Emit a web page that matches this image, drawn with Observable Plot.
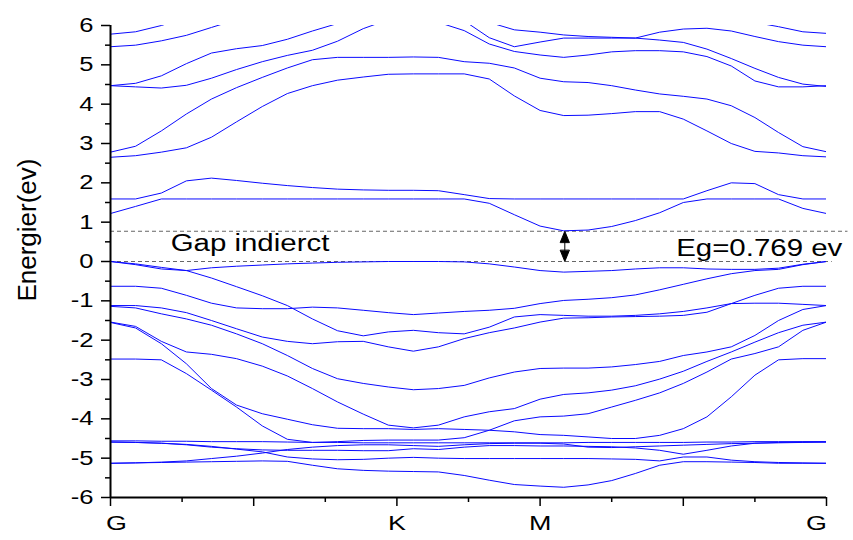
<!DOCTYPE html>
<html>
<head>
<meta charset="utf-8">
<script src="https://cdn.jsdelivr.net/npm/d3@7"></script>
<script src="https://cdn.jsdelivr.net/npm/@observablehq/plot@0.6"></script>
<style>
  html, body { margin: 0; padding: 0; background: #fff; }
  #chart { width: 853px; height: 540px; }
</style>
</head>
<body>
<div id="chart"></div>
<script>
// ---- k-path (G -> K -> M -> G) ----
const kPoints = [0, 0.35, 0.71, 1.06, 1.41, 1.76, 2.12, 2.47, 2.82, 3.17, 3.53, 3.88, 4.23, 4.58, 4.94,
                 5.29, 5.64, 6.00, 6.33, 6.67, 7.00, 7.33, 7.67, 8.00, 8.33, 8.67, 9.00, 9.33, 9.67, 10.00];
const symPoints = [0, 4, 6, 10];
const symLabels = ["G", "K", "M", "G"];
const xMajor = [0, 2, 4, 6, 8, 10];
const xMinor = [1, 3, 5, 7, 9];
const yMajor = [-6, -5, -4, -3, -2, -1, 0, 1, 2, 3, 4, 5, 6];
const yMinor = [-5.5, -4.5, -3.5, -2.5, -1.5, -0.5, 0.5, 1.5, 2.5, 3.5, 4.5, 5.5];

// ---- conduction bands (eV) ----
const c1 = [1.22, 1.40, 1.59, 1.59, 1.59, 1.59, 1.59, 1.59, 1.59, 1.59, 1.59, 1.59, 1.59, 1.59, 1.59, 1.48, 1.19, 0.90, 0.78, 0.80, 0.89, 1.04, 1.24, 1.50, 1.59, 1.59, 1.59, 1.59, 1.35, 1.22];
const c2 = [1.59, 1.59, 1.74, 2.05, 2.12, 2.06, 1.99, 1.93, 1.88, 1.84, 1.82, 1.81, 1.81, 1.80, 1.70, 1.60, 1.59, 1.59, 1.59, 1.59, 1.59, 1.59, 1.59, 1.59, 1.80, 2.00, 1.98, 1.70, 1.59, 1.59];
const c3 = [2.65, 2.69, 2.78, 2.89, 3.16, 3.55, 3.94, 4.27, 4.47, 4.61, 4.69, 4.76, 4.77, 4.77, 4.77, 4.64, 4.21, 3.84, 3.71, 3.72, 3.76, 3.81, 3.81, 3.62, 3.32, 3.00, 2.80, 2.76, 2.69, 2.66];
const c4 = [2.78, 2.93, 3.32, 3.75, 4.13, 4.42, 4.68, 4.92, 5.13, 5.19, 5.19, 5.19, 5.20, 5.19, 5.08, 5.04, 4.92, 4.66, 4.57, 4.55, 4.47, 4.36, 4.26, 4.20, 4.13, 3.96, 3.66, 3.28, 2.92, 2.79];
const c5 = [4.47, 4.44, 4.41, 4.48, 4.66, 4.88, 5.08, 5.24, 5.37, 5.60, 5.92, 6.15, 6.25, 6.08, 5.87, 5.53, 5.34, 5.25, 5.19, 5.25, 5.33, 5.36, 5.36, 5.33, 5.21, 4.97, 4.59, 4.44, 4.44, 4.47];
const c6 = [4.47, 4.53, 4.72, 5.03, 5.30, 5.41, 5.49, 5.65, 5.86, 6.05, 6.30, 6.40, 6.40, 6.30, 6.12, 5.69, 5.46, 5.58, 5.68, 5.68, 5.68, 5.68, 5.83, 5.91, 5.93, 5.86, 5.72, 5.59, 5.50, 5.46];
const c7 = [5.46, 5.50, 5.61, 5.75, 5.95, 6.15, 6.30, 6.40, 6.50, 6.55, 6.60, 6.60, 6.55, 6.45, 6.30, 6.08, 5.89, 5.83, 5.76, 5.72, 5.70, 5.68, 5.63, 5.57, 5.40, 5.16, 4.91, 4.68, 4.51, 4.45];
const c8 = [5.78, 5.84, 6.00, 6.20, 6.35, 6.50, 6.60, 6.70, 6.80, 6.80, 6.80, 6.80, 6.80, 6.80, 6.80, 6.80, 6.80, 6.80, 6.80, 6.70, 6.60, 6.50, 6.40, 6.30, 6.25, 6.15, 6.08, 5.97, 5.84, 5.80];

// ---- valence bands (eV) ----
const v1 = [0, -0.06, -0.15, -0.23, -0.16, -0.12, -0.09, -0.06, -0.04, -0.02, -0.01, 0, 0, 0, -0.01, -0.06, -0.14, -0.23, -0.27, -0.25, -0.23, -0.19, -0.16, -0.16, -0.19, -0.20, -0.20, -0.17, -0.07, 0];
const v2 = [0, -0.08, -0.19, -0.23, -0.42, -0.64, -0.87, -1.12, -1.46, -1.76, -1.89, -1.79, -1.75, -1.81, -1.84, -1.67, -1.41, -1.35, -1.37, -1.39, -1.39, -1.37, -1.33, -1.27, -1.18, -1.07, -1.06, -1.06, -1.09, -1.12];
const v3 = [-0.63, -0.63, -0.68, -0.86, -1.06, -1.18, -1.20, -1.20, -1.16, -1.18, -1.24, -1.30, -1.35, -1.31, -1.27, -1.24, -1.19, -1.07, -0.99, -0.96, -0.92, -0.85, -0.72, -0.58, -0.44, -0.31, -0.23, -0.20, -0.08, 0];
const v4 = [-1.12, -1.12, -1.18, -1.30, -1.50, -1.71, -1.92, -2.03, -2.09, -2.04, -2.03, -2.17, -2.28, -2.17, -1.96, -1.81, -1.69, -1.54, -1.44, -1.43, -1.41, -1.40, -1.39, -1.37, -1.29, -1.07, -0.86, -0.68, -0.63, -0.63];
const v5 = [-1.14, -1.18, -1.33, -1.46, -1.62, -1.84, -2.09, -2.39, -2.72, -2.98, -3.10, -3.19, -3.26, -3.23, -3.15, -2.96, -2.81, -2.72, -2.71, -2.71, -2.68, -2.62, -2.54, -2.39, -2.30, -2.17, -1.88, -1.50, -1.22, -1.12];
const v6 = [-1.54, -1.65, -2.03, -2.30, -2.36, -2.47, -2.66, -2.91, -3.23, -3.57, -3.88, -4.16, -4.23, -4.16, -3.95, -3.82, -3.74, -3.50, -3.38, -3.34, -3.27, -3.16, -2.99, -2.79, -2.54, -2.30, -2.05, -1.81, -1.62, -1.54];
const v7 = [-1.55, -1.69, -2.09, -2.60, -3.23, -3.65, -3.87, -4.01, -4.15, -4.24, -4.25, -4.25, -4.27, -4.25, -4.27, -4.29, -4.33, -4.40, -4.42, -4.46, -4.50, -4.50, -4.42, -4.25, -3.95, -3.44, -2.89, -2.50, -2.47, -2.47];
const v8 = [-2.48, -2.48, -2.50, -2.85, -3.27, -3.70, -4.18, -4.52, -4.60, -4.58, -4.55, -4.54, -4.54, -4.54, -4.48, -4.29, -4.05, -3.95, -3.93, -3.87, -3.70, -3.53, -3.34, -3.10, -2.81, -2.48, -2.34, -2.17, -1.75, -1.54];
const v9 = [-4.56, -4.56, -4.57, -4.57, -4.58, -4.58, -4.58, -4.59, -4.60, -4.60, -4.61, -4.61, -4.61, -4.61, -4.61, -4.61, -4.61, -4.61, -4.61, -4.60, -4.60, -4.60, -4.60, -4.60, -4.59, -4.59, -4.58, -4.58, -4.58, -4.58];
const v10 = [-4.59, -4.60, -4.62, -4.66, -4.72, -4.76, -4.79, -4.80, -4.80, -4.80, -4.81, -4.81, -4.76, -4.78, -4.72, -4.68, -4.68, -4.69, -4.69, -4.70, -4.71, -4.74, -4.80, -4.90, -4.80, -4.69, -4.62, -4.60, -4.59, -4.59];
const v11 = [-5.13, -5.12, -5.10, -5.07, -5.01, -4.95, -4.87, -4.78, -4.72, -4.68, -4.66, -4.66, -4.68, -4.70, -4.66, -4.63, -4.62, -4.62, -4.64, -4.72, -4.73, -4.71, -4.69, -4.67, -4.65, -4.63, -4.62, -4.61, -4.60, -4.59];
const v12 = [-4.59, -4.60, -4.62, -4.65, -4.70, -4.77, -4.84, -4.97, -5.02, -5.04, -5.03, -5.00, -4.98, -5.00, -5.01, -5.01, -5.01, -5.01, -5.01, -5.01, -5.02, -5.03, -5.07, -4.97, -4.97, -5.05, -5.09, -5.11, -5.12, -5.13];
const v13 = [-5.13, -5.12, -5.11, -5.10, -5.09, -5.08, -5.07, -5.08, -5.18, -5.27, -5.31, -5.33, -5.34, -5.35, -5.44, -5.56, -5.67, -5.71, -5.74, -5.68, -5.57, -5.39, -5.18, -5.09, -5.09, -5.10, -5.11, -5.13, -5.13, -5.13];

// ---- gap annotation ----
const gapValue = 0.769;   // eV
const gapK = 6.345;       // k position of CBM arrow
const gapLabel = "Gap indierct";
const egLabel = `Eg=${gapValue} ev`;
const yTitle = "Energier(ev)";

const bandList = {c1, c2, c3, c4, c5, c6, c7, c8, v1, v2, v3, v4, v5, v6, v7, v8, v9, v10, v11, v12, v13};
const rows = [];
for (const [name, vals] of Object.entries(bandList)) {
  vals.forEach((e, i) => rows.push({band: name, k: kPoints[i], e}));
}

const W = 853, H = 540, mL = 110, mR = 27, mT = 25, mB = 43;
const yScale = Plot.scale({y: {domain: [-6, 6], range: [H - mB, mT]}});
const gapPx = Math.abs(yScale.apply(0) - yScale.apply(gapValue));

const doubleArrow = {
  draw(context, l) {
    const h = 11, w = 4.5;
    context.moveTo(-w, -l + h); context.lineTo(0, -l); context.lineTo(w, -l + h); context.closePath();
    context.moveTo(-w, -h); context.lineTo(0, 0); context.lineTo(w, -h); context.closePath();
    context.moveTo(0, -h); context.lineTo(0, -l + h);
  }
};

const font = "'Liberation Sans', Arial, Helvetica, sans-serif";

const chart = Plot.plot({
  width: W, height: H,
  marginLeft: mL, marginRight: mR, marginTop: mT, marginBottom: mB,
  x: {domain: [0, 10]},
  y: {domain: [-6, 6]},
  style: {fontFamily: font, background: "#fff", color: "#000"},
  marks: [
    // dashed reference lines
    Plot.ruleY([gapValue], {x1: 0, x2: 10.3, stroke: "#666", strokeDasharray: "4,3", strokeWidth: 1, clip: false}),
    Plot.ruleY([0], {x1: 0, x2: 10.08, stroke: "#666", strokeDasharray: "4,3", strokeWidth: 1, clip: false}),
    // bands
    Plot.line(rows, {x: "k", y: "e", z: "band", stroke: "#0a0aff", strokeWidth: 1, clip: true}),
    // axes
    Plot.axisY({ticks: yMinor, tickSize: 5, tickFormat: () => "", label: null, strokeWidth: 1.5}),
    Plot.axisY({ticks: yMajor, tickSize: 9, tickPadding: 8, fontSize: 20, tickFormat: d => String(d), label: null, strokeWidth: 1.5}),
    Plot.axisX({ticks: xMinor, tickSize: 5, tickFormat: () => "", label: null, strokeWidth: 1.5}),
    Plot.axisX({ticks: xMajor, tickSize: 9, tickFormat: () => "", label: null, strokeWidth: 1.5}),
    Plot.axisX({ticks: symPoints.slice(1, 3), tickSize: 0, tickPadding: 18, fontSize: 21,
                tickFormat: d => symLabels[symPoints.indexOf(d)], label: null}),
    Plot.axisX({ticks: [symPoints[0]], tickSize: 0, tickPadding: 18, fontSize: 21, dx: 6,
                tickFormat: () => symLabels[0], label: null}),
    Plot.axisX({ticks: [symPoints[3]], tickSize: 0, tickPadding: 18, fontSize: 21, dx: -10,
                tickFormat: () => symLabels[3], label: null}),
    Plot.ruleX([0], {stroke: "#000", strokeWidth: 2}),
    Plot.ruleY([-6], {stroke: "#000", strokeWidth: 2}),
    // y title
    Plot.text([yTitle], {frameAnchor: "left", y: 0.8, rotate: -90, dx: -83, textAnchor: "middle",
                         fontSize: 26, fill: "#000"}),
    // annotations
    Plot.text([gapLabel], {x: 0.84, y: 0.45, textAnchor: "start", fontSize: 23, fill: "#000"}),
    Plot.text([egLabel], {x: 7.9, y: 0.33, textAnchor: "start", fontSize: 23, fill: "#000", clip: false}),
    Plot.vector([{k: gapK, e: 0}], {x: "k", y: "e", length: gapPx, anchor: "start",
                 shape: doubleArrow, stroke: "#000", fill: "#000", strokeWidth: 1})
  ]
});
document.getElementById("chart").appendChild(chart);

// the original uses a wide sans face: widen glyphs horizontally (not the rotated title)
chart.querySelectorAll("text").forEach(t => {
  if (t.textContent === yTitle) return;
  const len = t.getComputedTextLength();
  if (!len) return;
  t.setAttribute("textLength", (len * 1.28).toFixed(1));
  t.setAttribute("lengthAdjust", "spacingAndGlyphs");
});
</script>
</body>
</html>
